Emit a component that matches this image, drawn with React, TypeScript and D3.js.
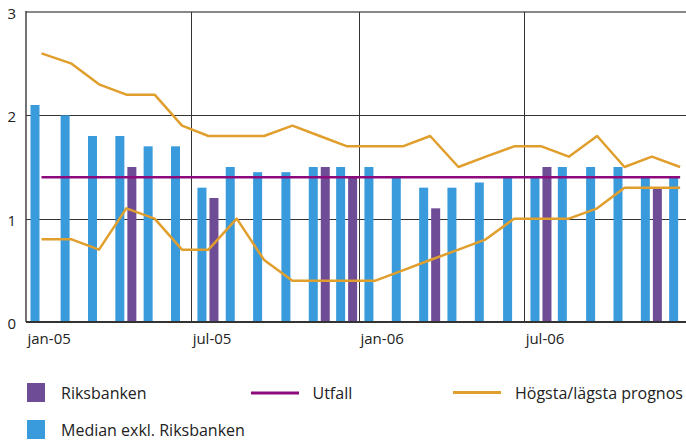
import React from "react";
import * as d3 from "d3";

// survey dates (one per month) and the values
const surveyDates = [
  "2005-01-18", "2005-02-20", "2005-03-22", "2005-04-21", "2005-05-22", "2005-06-21",
  "2005-07-20", "2005-08-20", "2005-09-19", "2005-10-20", "2005-11-19", "2005-12-19",
  "2006-01-19", "2006-02-18", "2006-03-20", "2006-04-20", "2006-05-20", "2006-06-20",
  "2006-07-20", "2006-08-19", "2006-09-19", "2006-10-19", "2006-11-18", "2006-12-19",
];
const median = [2.1, 2.0, 1.8, 1.8, 1.7, 1.7, 1.3, 1.5, 1.45, 1.45, 1.5, 1.5, 1.5, 1.4, 1.3, 1.3, 1.35, 1.4, 1.4, 1.5, 1.5, 1.5, 1.4, 1.4];
const riksbanken = [null, null, null, 1.5, null, null, 1.2, null, null, null, 1.5, 1.4, null, null, 1.1, null, null, null, 1.5, null, null, null, 1.3, null];
const utfall = [1.4, 1.4, 1.4, 1.4, 1.4, 1.4, 1.4, 1.4, 1.4, 1.4, 1.4, 1.4, 1.4, 1.4, 1.4, 1.4, 1.4, 1.4, 1.4, 1.4, 1.4, 1.4, 1.4, 1.4];
const highest = [2.6, 2.5, 2.3, 2.2, 2.2, 1.9, 1.8, 1.8, 1.8, 1.9, 1.8, 1.7, 1.7, 1.7, 1.8, 1.5, 1.6, 1.7, 1.7, 1.6, 1.8, 1.5, 1.6, 1.5];
const lowest = [0.8, 0.8, 0.7, 1.1, 1.0, 0.7, 0.7, 1.0, 0.6, 0.4, 0.4, 0.4, 0.4, 0.5, 0.6, 0.7, 0.8, 1.0, 1.0, 1.0, 1.1, 1.3, 1.3, 1.3];

const xTicks = ["2005-01-01", "2005-07-01", "2006-01-01", "2006-07-01"];
const xTickLabels = ["jan-05", "jul-05", "jan-06", "jul-06"];
const yTicks = [0, 1, 2, 3];

const BLUE = "#3a9bdc";
const PURPLE = "#6e4c96";
const UTFALL = "#8c0a7c";
const ORANGE = "#e09e2c";

export default function App() {
  const width = 686;
  const height = 441;
  const left = 26;
  const top = 12;
  const bottom = 322;

  const parse = d3.timeParse("%Y-%m-%d");
  const dates = surveyDates.map((d) => parse(d) as Date);

  const x = d3
    .scaleTime()
    .domain([parse("2005-01-01") as Date, parse("2007-01-01") as Date])
    .range([left, 692]);
  const y = d3.scaleLinear().domain([0, 3]).range([bottom, top]);

  const line = d3
    .line<number>()
    .x((_, i) => x(dates[i]))
    .y((d) => y(d));

  const font = "'Open Sans', sans-serif";

  return (
    <div style={{ position: "absolute", left: 0, top: 0 }}>
      <svg width={width} height={height} style={{ display: "block", background: "#fff" }}>
        {/* horizontal gridlines */}
        {[1, 2].map((t) => (
          <line key={t} x1={left} x2={width} y1={Math.round(y(t)) + 0.5} y2={Math.round(y(t)) + 0.5} stroke="#333" strokeWidth={1} />
        ))}
        <line x1={left} x2={width} y1={top} y2={top} stroke="#888" strokeWidth={2} />
        {/* vertical gridlines */}
        {xTicks.slice(1).map((t) => {
          const xx = Math.round(x(parse(t) as Date)) + 0.5;
          return <line key={t} x1={xx} x2={xx} y1={top} y2={bottom} stroke="#333" strokeWidth={1} />;
        })}

        {/* bars */}
        {median.map((v, i) => (
          <rect key={"m" + i} x={x(dates[i]) - 11} width={9} y={y(v)} height={y(0) - y(v)} fill={BLUE} />
        ))}
        {riksbanken.map((v, i) =>
          v == null ? null : (
            <rect key={"r" + i} x={x(dates[i]) + 1} width={9} y={y(v)} height={y(0) - y(v)} fill={PURPLE} />
          )
        )}

        {/* axes */}
        <line x1={left} x2={left} y1={top - 1} y2={bottom} stroke="#444" strokeWidth={1.5} />
        <line x1={left} x2={width} y1={bottom} y2={bottom} stroke="#333" strokeWidth={2} />

        {/* lines */}
        <path d={line(utfall) ?? ""} fill="none" stroke={UTFALL} strokeWidth={2.5} />
        <path d={line(highest) ?? ""} fill="none" stroke={ORANGE} strokeWidth={2.5} strokeLinejoin="round" />
        <path d={line(lowest) ?? ""} fill="none" stroke={ORANGE} strokeWidth={2.5} strokeLinejoin="round" />

        {/* tick labels */}
        {yTicks.map((t) => (
          <text key={t} x={16} y={y(t) + 1} textAnchor="end" dominantBaseline="central" fontFamily={font} fontSize={15} fill="#222">
            {t}
          </text>
        ))}
        {xTicks.map((t, i) => (
          <text key={t} x={x(parse(t) as Date) + 1.5} y={344} fontFamily={font} fontSize={15} fill="#222">
            {xTickLabels[i]}
          </text>
        ))}

        {/* legend */}
        <g fontFamily={font} fontSize={16} fill="#222">
          <rect x={27} y={383} width={18} height={19} fill={PURPLE} />
          <text x={61} y={399}>Riksbanken</text>
          <line x1={251} x2={299} y1={393} y2={393} stroke={UTFALL} strokeWidth={3} />
          <text x={312.5} y={399}>Utfall</text>
          <line x1={453} x2={501} y1={392.5} y2={392.5} stroke={ORANGE} strokeWidth={3} />
          <text x={515} y={399}>Högsta/lägsta prognos</text>
          <rect x={27} y={420} width={18} height={19} fill={BLUE} />
          <text x={61} y={436}>Median exkl. Riksbanken</text>
        </g>
      </svg>
    </div>
  );
}
